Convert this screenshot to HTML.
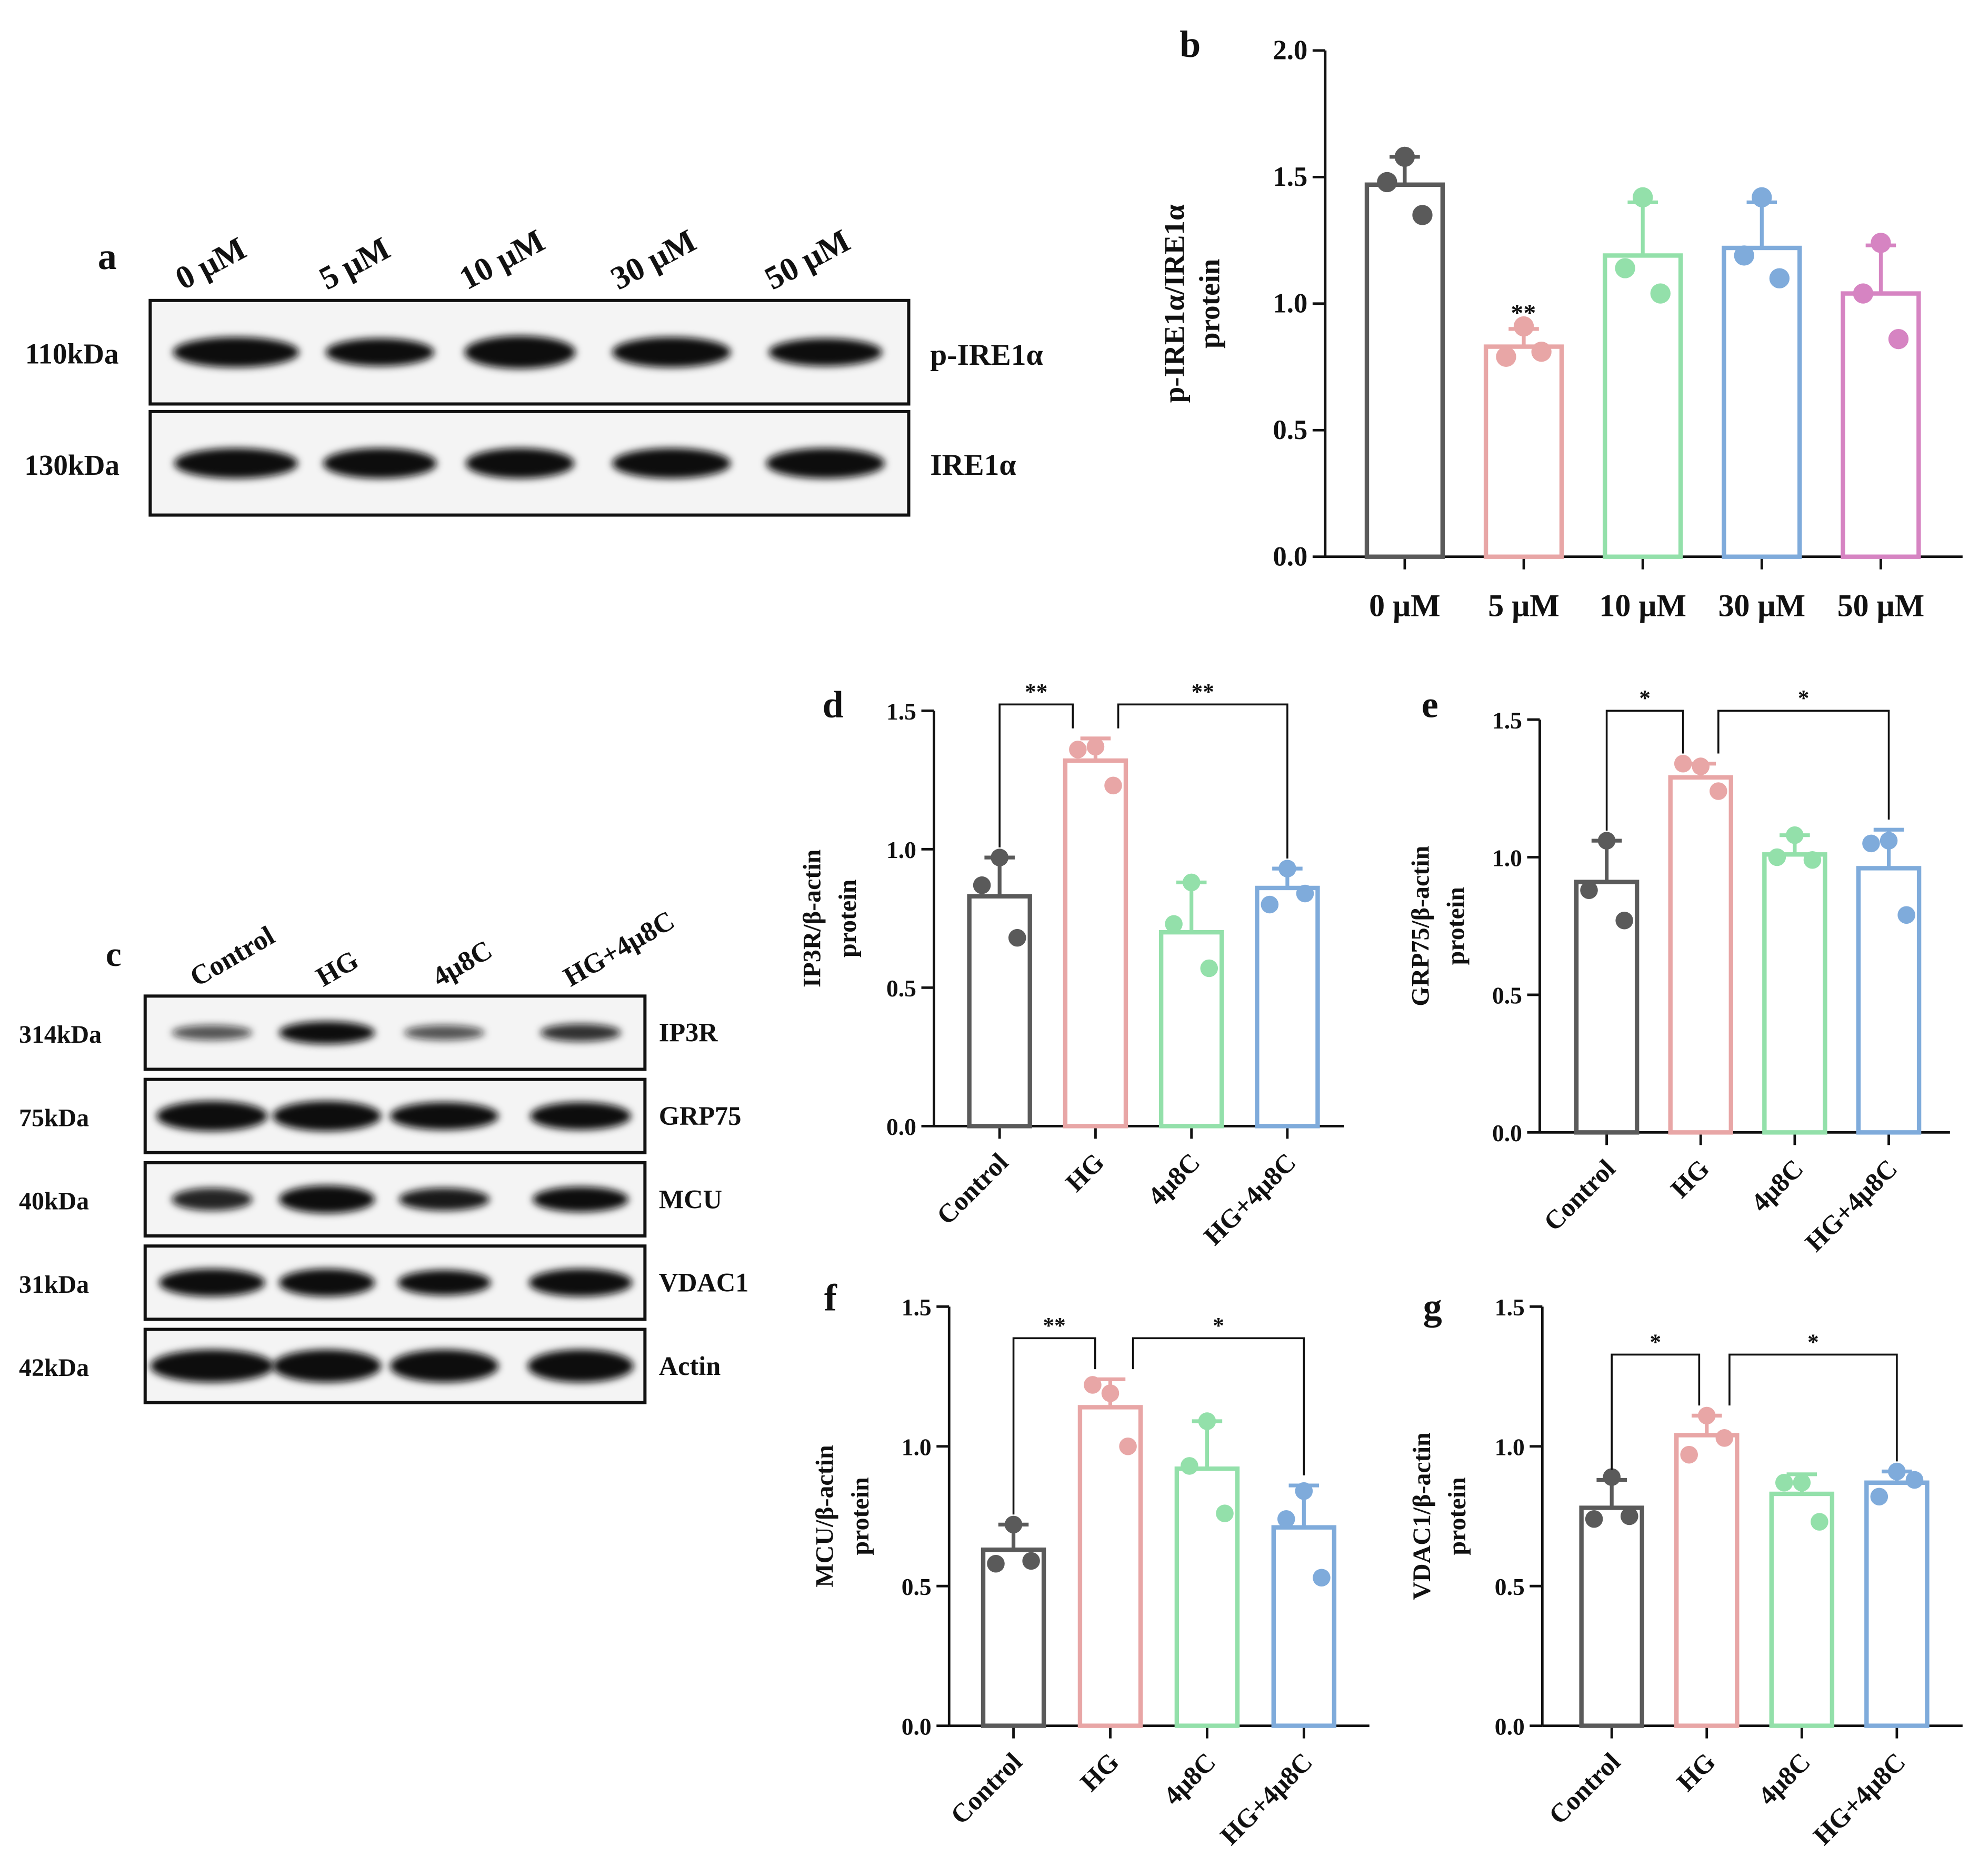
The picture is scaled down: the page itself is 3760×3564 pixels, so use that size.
<!DOCTYPE html>
<html><head><meta charset="utf-8">
<style>
html,body{margin:0;padding:0;background:#fff;}
svg{display:block;width:3760px;height:3564px;}
text{font-family:"Liberation Serif",serif;font-weight:bold;fill:#111;}
</style></head>
<body>
<svg id="fig" viewBox="0 0 1568 1486" preserveAspectRatio="none" xmlns="http://www.w3.org/2000/svg">
<defs><filter id="blur" x="-20%" y="-50%" width="140%" height="200%"><feGaussianBlur stdDeviation="3"/></filter></defs>
</svg>
<script>
// ---- data ----
const concCats = ["0 μM","5 μM","10 μM","30 μM","50 μM"];
const bMeans = [1.47,0.83,1.19,1.22,1.04];
const bErr = [1.58,0.90,1.40,1.40,1.23];
const bPts = [[1.58,1.48,1.35],[0.91,0.79,0.81],[1.42,1.14,1.04],[1.42,1.19,1.10],[1.24,1.04,0.86]];
const grpCats = ["Control","HG","4μ8C","HG+4μ8C"];
const dMeans = [0.83,1.32,0.70,0.86];
const dErr = [0.97,1.40,0.88,0.93];
const dPts = [[0.97,0.87,0.68],[1.37,1.36,1.23],[0.88,0.73,0.57],[0.93,0.80,0.84]];
const eMeans = [0.91,1.29,1.01,0.96];
const eErr = [1.06,1.34,1.08,1.10];
const ePts = [[1.06,0.88,0.77],[1.33,1.34,1.24],[1.08,1.00,0.99],[1.06,1.05,0.79]];
const fMeans = [0.63,1.14,0.92,0.71];
const fErr = [0.72,1.24,1.09,0.86];
const fPts = [[0.72,0.58,0.59],[1.19,1.22,1.00],[1.09,0.93,0.76],[0.84,0.74,0.53]];
const gMeans = [0.78,1.04,0.83,0.87];
const gErr = [0.88,1.11,0.90,0.91];
const gPts = [[0.89,0.74,0.75],[1.11,0.97,1.03],[0.87,0.87,0.73],[0.91,0.82,0.88]];
const yTicks4 = [0,0.5,1.0,1.5,2.0];
const yTicks3 = [0,0.5,1.0,1.5];

const svg = document.getElementById('fig');
const NS = "http://www.w3.org/2000/svg";
function el(tag, attrs, parent){
  const e = document.createElementNS(NS, tag);
  for (const k in attrs) e.setAttribute(k, attrs[k]);
  (parent||svg).appendChild(e);
  return e;
}
function txt(x,y,s,size,anchor,parent,rot){
  const t = el('text',{x:x,y:y,'font-size':size,'text-anchor':anchor||'middle'},parent);
  if (rot!==undefined) t.setAttribute('transform','rotate('+rot+' '+x+' '+y+')');
  t.textContent = s;
  return t;
}
const colors4 = ["#5a5a5a","#e8a6a6","#93e0aa","#7fabdb"];
const colors5 = ["#5a5a5a","#e8a6a6","#93e0aa","#7fabdb","#d684c2"];

function panel(cfg){
  const g = el('g',{});
  
  
  const yMax = cfg.ticks[cfg.ticks.length-1];
  const y = v => cfg.y0 - (cfg.y0-cfg.yTop)*v/yMax;
  const n = cfg.cats.length;
  const xs = i => cfg.x1 + cfg.step*i;
  const ya = el('line',{x1:cfg.ax,y1:cfg.y0,x2:cfg.ax,y2:cfg.yTop,stroke:'#111','stroke-width':2},g);
  
  
  const xa = el('line',{x1:cfg.ax,y1:cfg.y0,x2:cfg.xEnd,y2:cfg.y0,stroke:'#111','stroke-width':2},g);
  
  
  cfg.ticks.forEach(t=>{
    el('line',{x1:cfg.ax-10,y1:y(t),x2:cfg.ax,y2:y(t),stroke:'#111','stroke-width':2},g);
    const tl = txt(cfg.ax-14,y(t)+7,t.toFixed(1),cfg.fs,'end',g);
    
    
  });
  for(let i=0;i<n;i++){
    const cx = xs(i), c = cfg.colors[i];
    el('line',{x1:cx,y1:cfg.y0,x2:cx,y2:cfg.y0+10,stroke:'#111','stroke-width':2},g);
    const bar = el('rect',{x:cx-cfg.bw/2,y:y(cfg.means[i]),width:cfg.bw,height:cfg.y0-y(cfg.means[i]),fill:'none',stroke:c,'stroke-width':3.5},g);
    
    
    el('line',{x1:cx,y1:y(cfg.means[i]),x2:cx,y2:y(cfg.err[i]),stroke:c,'stroke-width':3},g);
    el('line',{x1:cx-12,y1:y(cfg.err[i]),x2:cx+12,y2:y(cfg.err[i]),stroke:c,'stroke-width':3},g);
    const offs=[0,-14,14];
    cfg.pts[i].forEach((p,j)=>{
      const d = el('circle',{cx:cx+offs[j],cy:y(p),r:cfg.r,fill:c},g);
      
      
    });
    let lab;
    if (cfg.rotLabels){
      lab = txt(cx+8,cfg.y0+30,cfg.cats[i],cfg.fs+2,'end',g,-45);
    } else {
      lab = txt(cx,cfg.y0+47,cfg.cats[i],cfg.fs+3,'middle',g);
    }
    
    
  }
  const t1 = txt(cfg.titleX,(cfg.y0+cfg.yTop)/2,cfg.title1,cfg.fs+1,'middle',g,-90);
  
  
  txt(cfg.titleX+28,(cfg.y0+cfg.yTop)/2,'protein',cfg.fs+1,'middle',g,-90);
  const pl = txt(cfg.letterX,cfg.letterY,cfg.letter,30,'middle',g);
  
  
  if (cfg.brackets){
    cfg.brackets.forEach(b=>{
      const xa_ = xs(b.a)+(b.da||0), xb_ = xs(b.b)+(b.db||0);
      el('polyline',{points:`${xa_},${y(cfg.err[b.a])-8} ${xa_},${b.y} ${xb_},${b.y} ${xb_},${y(cfg.err[b.b])-8}`,fill:'none',stroke:'#111','stroke-width':1.5},g);
      const st = txt((xa_+xb_)/2,b.y-4,b.s,18,'middle',g);
      
      
    });
  }
  return {g,y,xs};
}

const pb = panel({name:'chart-b',cats:concCats,means:bMeans,err:bErr,pts:bPts,colors:colors5,ticks:yTicks4,
  ax:1050,xEnd:1555,y0:441,yTop:40,x1:1113,step:94.3,bw:60,r:8,fs:22,rotLabels:false,
  title1:'p-IRE1α/IRE1α',titleX:938,letter:'b',letterX:943,letterY:45});
txt(1207,pb.y(bErr[1])-6,'**',20,'middle',pb.g);

panel({name:'chart-d',cats:grpCats,means:dMeans,err:dErr,pts:dPts,colors:colors4,ticks:yTicks3,
  ax:740,xEnd:1065,y0:892,yTop:563,x1:792,step:76,bw:48,r:7,fs:19,rotLabels:true,
  title1:'IP3R/β-actin',titleX:650,letter:'d',letterX:660,letterY:568,
  brackets:[{a:0,b:1,y:558,s:'**',db:-18},{a:1,b:3,y:558,s:'**',da:18}]});
panel({name:'chart-e',cats:grpCats,means:eMeans,err:eErr,pts:ePts,colors:colors4,ticks:yTicks3,
  ax:1220,xEnd:1545,y0:897,yTop:570,x1:1273,step:74.5,bw:48,r:7,fs:19,rotLabels:true,
  title1:'GRP75/β-actin',titleX:1132,letter:'e',letterX:1133,letterY:568,
  brackets:[{a:0,b:1,y:563,s:'*',db:-14},{a:1,b:3,y:563,s:'*',da:14}]});
panel({name:'chart-f',cats:grpCats,means:fMeans,err:fErr,pts:fPts,colors:colors4,ticks:yTicks3,
  ax:752,xEnd:1085,y0:1367,yTop:1035,x1:803,step:76.7,bw:48,r:7,fs:19,rotLabels:true,
  title1:'MCU/β-actin',titleX:660,letter:'f',letterX:658,letterY:1038,
  brackets:[{a:0,b:1,y:1060,s:'**',db:-12},{a:1,b:3,y:1060,s:'*',da:18}]});
panel({name:'chart-g',cats:grpCats,means:gMeans,err:gErr,pts:gPts,colors:colors4,ticks:yTicks3,
  ax:1222,xEnd:1555,y0:1367,yTop:1035,x1:1277,step:75.3,bw:48,r:7,fs:19,rotLabels:true,
  title1:'VDAC1/β-actin',titleX:1133,letter:'g',letterX:1135,letterY:1045,
  brackets:[{a:0,b:1,y:1073,s:'*',db:-6},{a:1,b:3,y:1073,s:'*',da:18}]});

function blot(name,x,y,w,h,lanes,widths,bh,op){
  const g = el('g',{});
  
  
  el('rect',{x:x,y:y,width:w,height:h,fill:'#f4f4f4',stroke:'#111','stroke-width':2.5},g);
  lanes.forEach((cx,i)=>{
    el('ellipse',{cx:cx,cy:y+h/2,rx:widths[i]/2,ry:bh[i]/2,fill:'#111','fill-opacity':op[i],filter:'url(#blur)'},g);
  });
}
const aLanes=[187,301,412,532,654];
blot('blot-p-ire1a',119,238,601,82,aLanes,[100,86,88,94,90],[24,22,26,24,22],[1,1,1,1,1]);
blot('blot-ire1a',119,326,601,82,aLanes,[98,90,86,94,94],[24,24,24,24,24],[1,1,1,1,1]);
txt(85,213,'a',30,'middle');
const aLab=["0 μM","5 μM","10 μM","30 μM","50 μM"];
aLab.forEach((s,i)=>txt(aLanes[i]-42,230,s,26,'start',svg,-28));
txt(57,288,'110kDa',23,'middle');txt(57,376,'130kDa',23,'middle');
txt(737,289,'p-IRE1α',24,'start');txt(737,376,'IRE1α',24,'start');

const cLanes=[168,259,352,460];
const rows=[789,855,921,987,1053];
const rowW=[[64,76,64,64],[88,86,86,80],[64,76,72,76],[84,76,74,82],[98,86,86,84]];
const rowH=[[12,18,12,14],[24,24,22,22],[18,22,18,20],[22,22,20,22],[26,26,26,26]];
const rowO=[[0.7,1,0.7,0.85],[1,1,1,1],[0.9,1,0.95,1],[1,1,1,1],[1,1,1,1]];
const rowNames=['IP3R','GRP75','MCU','VDAC1','Actin'];
const kda=['314kDa','75kDa','40kDa','31kDa','42kDa'];
rows.forEach((ry,i)=>{
  blot('blot-'+rowNames[i].toLowerCase(),115,ry,396,58,cLanes,rowW[i],rowH[i],rowO[i]);
  txt(15,ry+37,kda[i],20,'start');
  txt(522,ry+36,rowNames[i],21,'start');
});
txt(90,765,'c',28,'middle');
const cLab=["Control","HG","4μ8C","HG+4μ8C"];
const cX=[156,256,348,452];
cLab.forEach((s,i)=>txt(cX[i],782,s,22,'start',svg,-30));
</script>
</body></html>
